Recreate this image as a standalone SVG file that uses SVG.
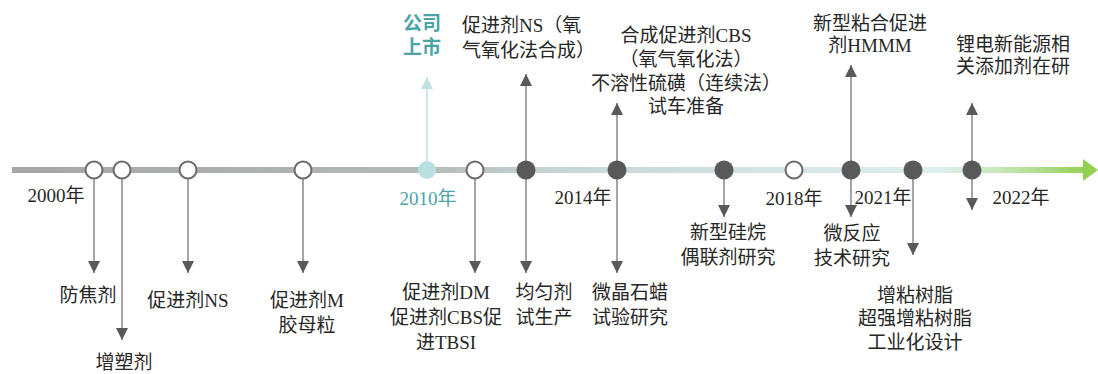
<svg xmlns="http://www.w3.org/2000/svg" width="1098" height="374" viewBox="0 0 1098 374">
<defs>
<linearGradient id="axisGrad" gradientUnits="userSpaceOnUse" x1="12" y1="0" x2="1090" y2="0">
<stop offset="0" stop-color="#a6a6a6"/>
<stop offset="0.38" stop-color="#b4b8b8"/>
<stop offset="0.5" stop-color="#c6d4d4"/>
<stop offset="0.7" stop-color="#d2e4e4"/>
<stop offset="0.86" stop-color="#dcf0ee"/>
<stop offset="0.92" stop-color="#c4e6b4"/>
<stop offset="1" stop-color="#92d050"/>
</linearGradient>
<marker id="arr" markerUnits="userSpaceOnUse" markerWidth="12" markerHeight="12" viewBox="0 0 12 12" refX="12" refY="6" orient="auto">
<path d="M0,0 L12,6 L0,12 Z" fill="#595959"/>
</marker>
<marker id="arrTeal" markerUnits="userSpaceOnUse" markerWidth="12" markerHeight="12" viewBox="0 0 12 12" refX="12" refY="6" orient="auto">
<path d="M0,0 L12,6 L0,12 Z" fill="#bfe1e3"/>
</marker>
</defs>
<style>
text{font-family:"Liberation Serif","Noto Sans CJK SC",serif;font-size:19px;fill:#262626;text-anchor:middle}
.teal{fill:#4ba3a7}
.bold{font-weight:bold}
.left{text-anchor:start}
.conn{stroke:#7f7f7f;stroke-width:1.4;fill:none;marker-end:url(#arr)}
.connT{stroke:#bfe1e3;stroke-width:1.6;fill:none;marker-end:url(#arrTeal)}
.open{fill:#ffffff;stroke:#6b6b6b;stroke-width:2}
.dark{fill:#595959}
.lt{fill:#b8dfe1}
</style>

<g id="axis">
<line x1="12" y1="170" x2="1085" y2="170" stroke="url(#axisGrad)" stroke-width="6"/>
<polygon points="1083,159 1098,170 1083,181" fill="#92d050"/>
</g>

<g id="connectors">
<line class="conn" x1="94" y1="179" x2="94" y2="273"/>
<line class="conn" x1="122" y1="179" x2="122" y2="340"/>
<line class="conn" x1="188" y1="179" x2="188" y2="273"/>
<line class="conn" x1="303" y1="179" x2="303" y2="273"/>
<line class="connT" x1="427" y1="161" x2="427" y2="77"/>
<line class="conn" x1="475" y1="179" x2="475" y2="273"/>
<line class="conn" x1="526" y1="161" x2="526" y2="74"/>
<line class="conn" x1="526" y1="179" x2="526" y2="273"/>
<line class="conn" x1="617" y1="161" x2="617" y2="103"/>
<line class="conn" x1="617" y1="179" x2="617" y2="273"/>
<line class="conn" x1="724" y1="179" x2="724" y2="217"/>
<line class="conn" x1="851" y1="161" x2="851" y2="65"/>
<line class="conn" x1="851" y1="179" x2="851" y2="217"/>
<line class="conn" x1="913" y1="179" x2="913" y2="255"/>
<line class="conn" x1="972" y1="161" x2="972" y2="103"/>
<line class="conn" x1="972" y1="179" x2="972" y2="210"/>
</g>

<g id="years">
<text x="56" y="202">2000年</text>
<text class="teal" x="428" y="205">2010年</text>
<text x="583" y="204">2014年</text>
<text x="794" y="205">2018年</text>
<text x="883" y="204">2021年</text>
<text x="1021" y="204">2022年</text>
</g>

<g id="n2000a"><circle class="open" cx="94" cy="170" r="8.5"/><text x="88" y="302">防焦剂</text></g>
<g id="n2000b"><circle class="open" cx="122" cy="170" r="8.5"/><text x="124" y="369">增塑剂</text></g>
<g id="nNS"><circle class="open" cx="188" cy="170" r="8.5"/><text x="188" y="307">促进剂NS</text></g>
<g id="nM"><circle class="open" cx="303" cy="170" r="8.5"/><text x="307" y="307">促进剂M</text><text x="307" y="332">胶母粒</text></g>
<g id="nIPO"><circle class="lt" cx="427" cy="170" r="9"/><text class="teal bold" x="422" y="30">公司</text><text class="teal bold" x="422" y="54">上市</text></g>
<g id="nDM"><circle class="open" cx="475" cy="170" r="8.5"/><text x="446" y="299">促进剂DM</text><text x="446" y="324">促进剂CBS促</text><text x="446" y="349">进TBSI</text></g>
<g id="nNS2"><circle class="dark" cx="526" cy="170" r="9.5"/><text class="left" x="462" y="32">促进剂NS（氧</text><text class="left" x="462" y="57">气氧化法合成）</text><text x="544" y="299">均匀剂</text><text x="544" y="324">试生产</text></g>
<g id="nCBS"><circle class="dark" cx="617" cy="170" r="9.5"/><text x="686" y="42">合成促进剂CBS</text><text x="686" y="66">（氧气氧化法）</text><text x="686" y="90">不溶性硫磺（连续法）</text><text x="686" y="113">试车准备</text><text x="630" y="299">微晶石蜡</text><text x="630" y="324">试验研究</text></g>
<g id="nSilane"><circle class="dark" cx="724" cy="170" r="9.5"/><text x="728" y="239">新型硅烷</text><text x="728" y="264">偶联剂研究</text></g>
<g id="n2018"><circle class="open" cx="794" cy="170" r="8.5"/></g>
<g id="nHMMM"><circle class="dark" cx="851" cy="170" r="9.5"/><text x="870" y="30">新型粘合促进</text><text x="870" y="52">剂HMMM</text><text x="852" y="240">微反应</text><text x="852" y="265">技术研究</text></g>
<g id="nResin"><circle class="dark" cx="913" cy="170" r="9.5"/><text x="915" y="302">增粘树脂</text><text x="915" y="325">超强增粘树脂</text><text x="915" y="349">工业化设计</text></g>
<g id="nLi"><circle class="dark" cx="972" cy="170" r="9.5"/><text x="1013" y="51">锂电新能源相</text><text x="1013" y="73">关添加剂在研</text></g>
</svg>
